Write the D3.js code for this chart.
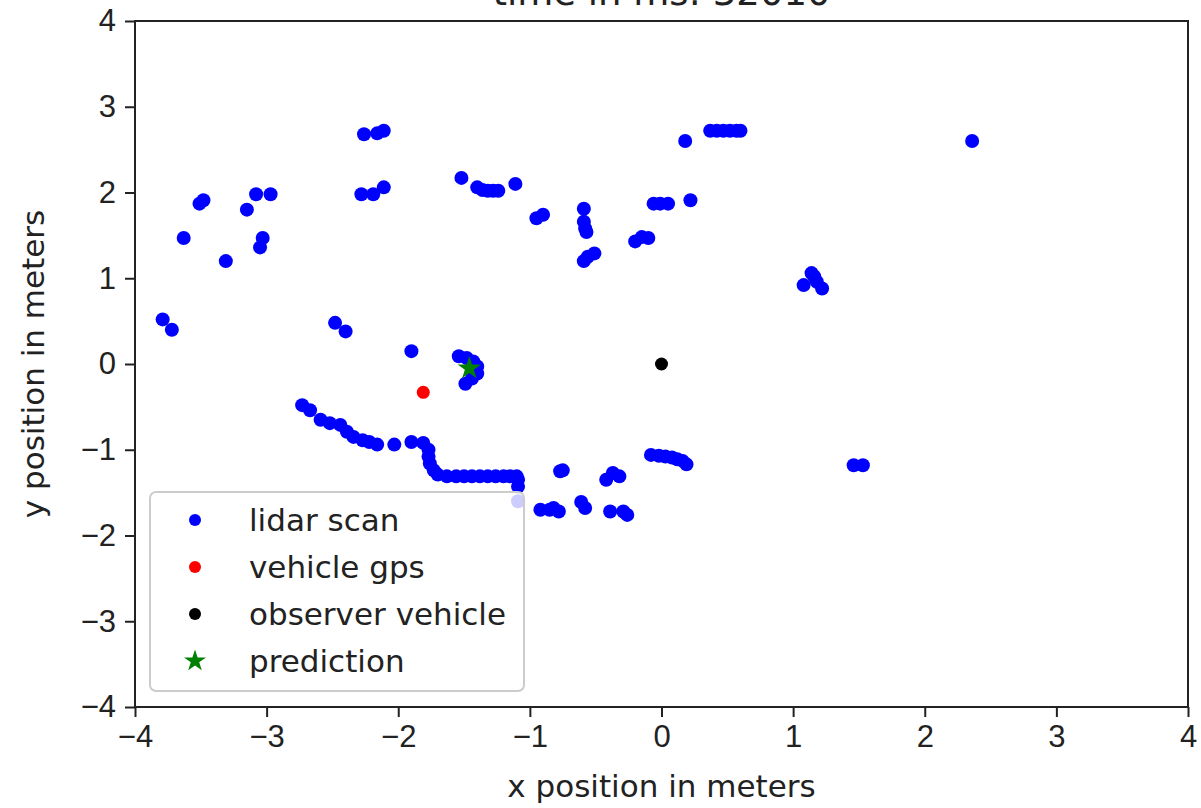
<!DOCTYPE html>
<html>
<head>
<meta charset="utf-8">
<script src="https://cdn.jsdelivr.net/npm/d3@7"></script>
<style>
  body { margin: 0; background: #fff; }
  svg { font-family: "DejaVu Sans", sans-serif; }
  .tick text { fill: #222; }
</style>
</head>
<body>
<div id="chart"></div>
<script>
// lidar scan points (meters)
const lidarX = [
  -3.79, -3.72, -3.63, -3.51, -3.48, -3.31, -3.15, -3.08, -2.97, -3.03, -3.05,
  -2.48, -2.40, -2.26, -2.16, -2.11, -2.28, -2.19, -2.11,
  -1.52, -1.40, -1.36, -1.32, -1.28, -1.24, -1.11,
  -0.95, -0.90, -0.59, -0.59, -0.58, -0.57, -0.59, -0.56, -0.51,
  -0.20, -0.15, -0.10, -0.06, -0.01, 0.05, 0.22, 0.18,
  0.37, 0.42, 0.47, 0.52, 0.57, 0.60, 2.36,
  1.14, 1.08, 1.18, 1.22, 1.16, 1.46, 1.53,
  -1.90, -1.54, -1.48, -1.43, -1.40, -1.40, -1.44, -1.49,
  -2.73, -2.67, -2.59, -2.52, -2.44, -2.39, -2.34, -2.27, -2.22, -2.16, -2.03,
  -1.90, -1.81, -1.77, -1.77, -1.76, -1.73, -1.70, -1.63,
  -1.56, -1.50, -1.44, -1.38, -1.32, -1.26, -1.20, -1.15, -1.10,
  -1.09, -1.09, -1.09,
  -0.92, -0.85, -0.82, -0.78, -0.75, -0.77, -0.61, -0.58,
  -0.42, -0.37, -0.32, -0.39, -0.29, -0.26,
  -0.08, -0.02, 0.03, 0.08, 0.12, 0.16, 0.19
];
const lidarY = [
  0.52, 0.40, 1.47, 1.87, 1.91, 1.20, 1.80, 1.98, 1.98, 1.47, 1.36,
  0.48, 0.38, 2.68, 2.69, 2.72, 1.98, 1.98, 2.06,
  2.17, 2.06, 2.03, 2.02, 2.02, 2.02, 2.10,
  1.70, 1.74, 1.81, 1.66, 1.58, 1.54, 1.20, 1.25, 1.29,
  1.43, 1.48, 1.47, 1.87, 1.87, 1.87, 1.91, 2.60,
  2.72, 2.72, 2.72, 2.72, 2.72, 2.72, 2.60,
  1.06, 0.92, 0.96, 0.88, 1.02, -1.18, -1.18,
  0.15, 0.09, 0.07, 0.03, -0.03, -0.11, -0.17, -0.23,
  -0.48, -0.54, -0.65, -0.69, -0.71, -0.79, -0.85, -0.89, -0.91, -0.94, -0.94,
  -0.91, -0.92, -1.00, -1.08, -1.16, -1.24, -1.29, -1.31,
  -1.31, -1.31, -1.31, -1.31, -1.31, -1.31, -1.31, -1.31, -1.31,
  -1.35, -1.43, -1.60,
  -1.70, -1.70, -1.68, -1.72, -1.24, -1.25, -1.61, -1.68,
  -1.35, -1.27, -1.31, -1.72, -1.72, -1.76,
  -1.06, -1.07, -1.08, -1.09, -1.11, -1.13, -1.17
];
const gpsPoint = [-1.81, -0.33];
const observerPoint = [0, 0];
const predictionPoint = [-1.46, -0.05];

const xTicks = [-4, -3, -2, -1, 0, 1, 2, 3, 4];
const yTicks = [-4, -3, -2, -1, 0, 1, 2, 3, 4];
const legendLabels = ["lidar scan", "vehicle gps", "observer vehicle", "prediction"];
const legendColors = ["#0000ff", "#ff0000", "#000000", "#008000"];

const lidar = lidarX.map((x, i) => ({ x, y: lidarY[i] }));

const margin = { top: 21, right: 13, bottom: 101, left: 135 };
const width = 1201 - margin.left - margin.right;
const height = 808 - margin.top - margin.bottom;

const svg = d3.select("#chart")
  .append("svg")
  .attr("width", 1201)
  .attr("height", 808);

const g = svg.append("g")
  .attr("transform", `translate(${margin.left},${margin.top})`);

const x = d3.scaleLinear().domain([-4, 4]).range([0, width]);
const y = d3.scaleLinear().domain([-4, 4]).range([height, 0]);

// axes
const xAxis = d3.axisBottom(x).tickValues(xTicks).tickSize(10).tickPadding(8)
  .tickFormat(d3.format("d"));
const yAxis = d3.axisLeft(y).tickValues(yTicks).tickSize(10).tickPadding(9)
  .tickFormat(d3.format("d"));

const gx = g.append("g")
  .attr("transform", `translate(0,${height})`)
  .call(xAxis);
const gy = g.append("g").call(yAxis);

[gx, gy].forEach(a => {
  a.select(".domain").remove();
  a.selectAll(".tick line").attr("stroke", "#222").attr("stroke-width", 2);
  a.selectAll(".tick text").attr("font-size", 31);
});

// points
g.append("g")
  .selectAll("circle")
  .data(lidar)
  .enter()
  .append("circle")
  .attr("cx", d => x(d.x))
  .attr("cy", d => y(d.y))
  .attr("r", 7)
  .attr("fill", "#0000ff");

g.append("circle")
  .attr("cx", x(gpsPoint[0]))
  .attr("cy", y(gpsPoint[1]))
  .attr("r", 6.5)
  .attr("fill", "#ff0000");

g.append("circle")
  .attr("cx", x(observerPoint[0]))
  .attr("cy", y(observerPoint[1]))
  .attr("r", 6.5)
  .attr("fill", "#000000");

g.append("path")
  .attr("d", d3.symbol(d3.symbolStar, 170)())
  .attr("transform", `translate(${x(predictionPoint[0])},${y(predictionPoint[1])})`)
  .attr("fill", "#008000");

// frame
g.append("rect")
  .attr("width", width)
  .attr("height", height)
  .attr("fill", "none")
  .attr("stroke", "#222")
  .attr("stroke-width", 2);

// legend
const legend = g.append("g").attr("transform", "translate(15,471)");
legend.append("rect")
  .attr("width", 374)
  .attr("height", 199)
  .attr("rx", 6)
  .attr("fill", "#fff")
  .attr("fill-opacity", 0.8)
  .attr("stroke", "#cccccc")
  .attr("stroke-width", 2);

const rows = legend.selectAll(".row")
  .data(legendLabels)
  .enter()
  .append("g")
  .attr("transform", (d, i) => `translate(0,${28 + i * 47})`);

rows.each(function (d, i) {
  const r = d3.select(this);
  if (i === 3) {
    r.append("path")
      .attr("d", d3.symbol(d3.symbolStar, 150)())
      .attr("transform", "translate(45,0)")
      .attr("fill", legendColors[i]);
  } else {
    r.append("circle")
      .attr("cx", 45)
      .attr("r", 6)
      .attr("fill", legendColors[i]);
  }
  r.append("text")
    .attr("x", 99)
    .attr("dy", "0.35em")
    .attr("font-size", 31)
    .attr("fill", "#222")
    .text(d);
});

// labels
svg.append("text")
  .attr("x", margin.left + width / 2)
  .attr("y", 797)
  .attr("text-anchor", "middle")
  .attr("font-size", 31)
  .attr("fill", "#222")
  .text("x position in meters");

svg.append("text")
  .attr("transform", `translate(44,${margin.top + height / 2}) rotate(-90)`)
  .attr("text-anchor", "middle")
  .attr("font-size", 31)
  .attr("fill", "#222")
  .text("y position in meters");

svg.append("text")
  .attr("x", margin.left + width / 2)
  .attr("y", 5)
  .attr("text-anchor", "middle")
  .attr("font-size", 37)
  .attr("fill", "#222")
  .text("time in ms: 32010");
</script>
</body>
</html>
